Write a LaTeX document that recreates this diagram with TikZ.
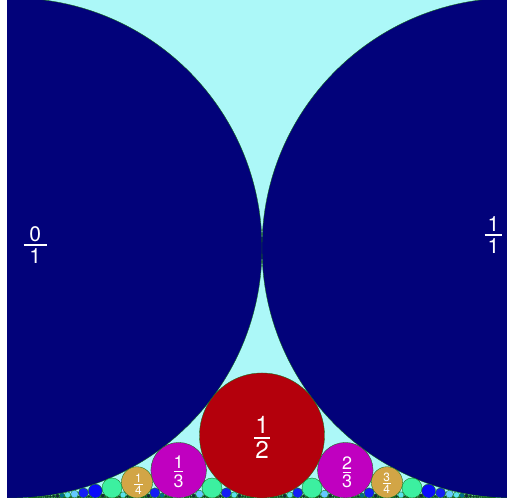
\documentclass[tikz,border=0pt]{standalone}
\usepackage{fontspec}
\setmainfont{TeX Gyre Heros}
\definecolor{bgcyan}{RGB}{172,248,248}
\definecolor{c1}{RGB}{2,2,122}
\definecolor{c2}{RGB}{180,0,12}
\definecolor{c3}{RGB}{192,0,192}
\definecolor{c4}{RGB}{210,165,70}
\definecolor{c5}{RGB}{60,240,160}
\definecolor{c6}{RGB}{10,10,250}
\definecolor{c7}{RGB}{20,30,245}
\definecolor{c8}{RGB}{100,200,255}
\definecolor{c9}{RGB}{90,225,235}
\definecolor{c10}{RGB}{0,110,140}
\definecolor{cX}{RGB}{20,40,60}
\definecolor{edge}{RGB}{20,110,20}
\newcommand\fr[4]{\fontsize{#1}{#1}\selectfont
  \vbox{\offinterlineskip\halign{\hfil##\hfil\cr #3\cr\noalign{\kern0.12em}%
  \vrule width #2em height 0.08em depth 0pt\cr\noalign{\kern0.12em}#4\cr}}}
\tikzset{flab/.style={inner sep=0pt, text=white}}
\begin{document}
\begin{tikzpicture}[x=5cm,y=5cm]
\useasboundingbox (-0.024,-0.004) rectangle (0.99,0.996);
\fill[white] (-0.024,-0.004) rectangle (0.99,0.996);
\begin{scope}
\clip (-0.010,0) rectangle (0.99,0.996);
\fill[bgcyan] (-0.010,0) rectangle (0.99,0.996);
\foreach \q in {1,...,30}{
  \foreach \p in {0,...,\q}{
    \pgfmathtruncatemacro\g{gcd(\p,\q)}
    \ifnum\g=1
      \pgfmathsetmacro\r{1/(2*\q*\q)}
      \pgfmathsetmacro\u{\p/\q}
      \ifnum\q>10 \def\cc{cX}\else\edef\cc{c\q}\fi
      \filldraw[fill=\cc, draw=edge, line width=0.1pt] (\u,\r) circle[radius=\r];
    \fi
  }
}
\end{scope}
\node[flab] (l01) at (0.0466,0.506) {\fr{6}{1.1}{0}{1}};
\node[flab] (l11) at (0.963,0.526) {\fr{6}{0.85}{1}{1}};
\node[flab] (l12) at (0.5,0.1206) {\fr{6.9}{0.62}{1}{2}};
\node[flab] (l13) at (0.3333,0.0526) {\fr{5.1}{0.51}{1}{3}};
\node[flab] (l23) at (0.67,0.051) {\fr{5.1}{0.5}{2}{3}};
\node[flab] (l14) at (0.253,0.0274) {\fr{3.4}{0.7}{1}{4}};
\node[flab] (l34) at (0.7496,0.0294) {\fr{3.4}{0.7}{3}{4}};
\end{tikzpicture}
\end{document}
